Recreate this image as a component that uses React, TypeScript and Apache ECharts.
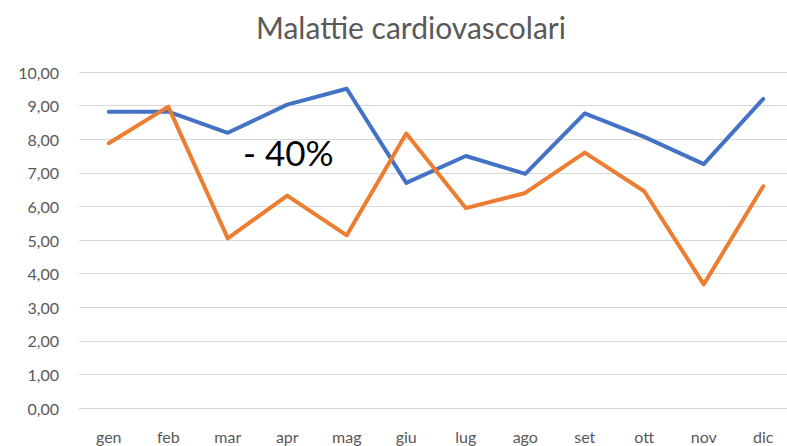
import React, { useEffect, useRef } from "react";
import * as echarts from "echarts";

const categories = ["gen", "feb", "mar", "apr", "mag", "giu", "lug", "ago", "set", "ott", "nov", "dic"];
const seriesBlue = [8.82, 8.82, 8.19, 9.03, 9.5, 6.7, 7.5, 6.97, 8.77, 8.07, 7.26, 9.2];
const seriesOrange = [7.88, 8.97, 5.05, 6.32, 5.14, 8.17, 5.95, 6.4, 7.6, 6.45, 3.68, 6.6];
const titleText = "Malattie cardiovascolari";
const noteText = "- 40%";

const FONT = "Lato, 'Noto Sans', sans-serif";

export default function App() {
  const ref = useRef<HTMLDivElement>(null);
  useEffect(() => {
    if (!ref.current) return;
    const chart = echarts.init(ref.current, null, { renderer: "svg" });
    chart.setOption({
      animation: false,
      backgroundColor: "#ffffff",
      title: {
        text: titleText,
        left: 406,
        textAlign: "center",
        top: 7,
        textStyle: { color: "#595959", fontSize: 30, fontWeight: "normal", fontFamily: FONT },
      },
      grid: { left: 79, top: 72, width: 714, height: 336, containLabel: false },
      xAxis: {
        type: "category",
        data: categories,
        boundaryGap: true,
        axisLine: { show: true, lineStyle: { color: "#D9D9D9", width: 1 } },
        axisTick: { show: false },
        axisLabel: { color: "#595959", fontSize: 16, fontFamily: FONT, margin: 20 },
      },
      yAxis: {
        type: "value",
        min: 0,
        max: 10,
        interval: 1,
        axisLine: { show: false },
        axisTick: { show: false },
        splitLine: { lineStyle: { color: "#D9D9D9", width: 1 } },
        axisLabel: {
          color: "#595959",
          fontSize: 16,
          fontFamily: FONT,
          margin: 20,
          formatter: (v: number) => v.toFixed(2).replace(".", ","),
        },
      },
      series: [
        {
          type: "line",
          data: seriesBlue,
          symbol: "none",
          lineStyle: { color: "#4472C4", width: 4, join: "round", cap: "round" },
          itemStyle: { color: "#4472C4" },
        },
        {
          type: "line",
          data: seriesOrange,
          symbol: "none",
          lineStyle: { color: "#ED7D31", width: 4, join: "round", cap: "round" },
          itemStyle: { color: "#ED7D31" },
        },
      ],
      graphic: [
        {
          type: "text",
          left: 243,
          top: 134,
          style: { text: noteText, fill: "#000000", fontSize: 35, fontFamily: FONT },
        },
      ],
    });
    return () => chart.dispose();
  }, []);
  return (
    <div style={{ width: 787, height: 446, position: "absolute", left: 0, top: 0, overflow: "hidden" }}>
      <div ref={ref} style={{ width: 800, height: 446 }} />
    </div>
  );
}
